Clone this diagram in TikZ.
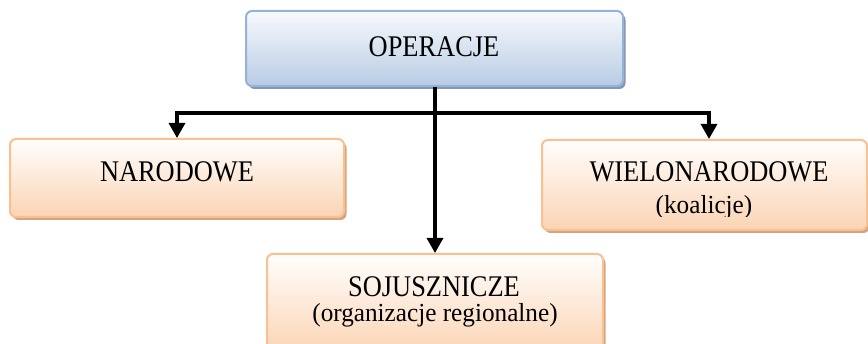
\documentclass[tikz,border=0pt]{standalone}
\usepackage{fontspec}
\setmainfont{Liberation Serif}
\newfontfamily\capsfont[FakeStretch=0.88]{Liberation Serif}
\newfontfamily\smallfont[FakeStretch=0.97]{Liberation Serif}
\usetikzlibrary{shadows,arrows.meta}

\definecolor{bluetop}{HTML}{F7F9FD}
\definecolor{bluebot}{HTML}{B8CCE4}
\definecolor{blueline}{HTML}{95B3D7}
\definecolor{blueshadow}{HTML}{8497B0}
\definecolor{orangetop}{HTML}{FFFEFD}
\definecolor{orangebot}{HTML}{FBD4B4}
\definecolor{orangeline}{HTML}{FAC090}
\definecolor{orangeshadow}{HTML}{D2A484}

\tikzset{
  x=1pt, y=-1pt,
  box/.style={rectangle, rounded corners=6pt, line width=2pt, inner sep=0pt},
  bluebox/.style={box, draw=blueline, top color=bluetop, bottom color=bluebot,
    drop shadow={shadow xshift=2.5pt, shadow yshift=-3pt, fill=blueshadow, opacity=1}},
  orangebox/.style={box, draw=orangeline, top color=orangetop, bottom color=orangebot,
    drop shadow={shadow xshift=2.5pt, shadow yshift=-3pt, fill=orangeshadow, opacity=1}},
  maintext/.style={anchor=base, inner sep=0pt, font=\capsfont\fontsize{30}{32}\selectfont},
  subtext/.style={anchor=base, inner sep=0pt, font=\smallfont\fontsize{26}{28}\selectfont},
  link/.style={line width=3.2pt, black},
  arrow/.style={link, -{Triangle[length=15pt, width=16pt]}},
}

\begin{document}
\begin{tikzpicture}
  \useasboundingbox (0,0) rectangle (868,344);

  % boxes
  \node[bluebox, minimum width=377pt, minimum height=75pt] (op) at (434.5,48.5) {};
  \node[orangebox, minimum width=334pt, minimum height=78pt] (nar) at (177,178) {};
  \node[orangebox, minimum width=325pt, minimum height=90pt] (wiel) at (704.5,185) {};
  \node[orangebox, minimum width=336pt, minimum height=100pt] (soj) at (435,304) {};

  % labels
  \node[maintext] (optext) at (434,57) {OPERACJE};
  \node[maintext] (nartext) at (177,182) {NARODOWE};
  \node[maintext] (wieltext) at (709,182) {WIELONARODOWE};
  \begin{scope}
    \clip (542,190) rectangle (866,217);
    \node[subtext] (wielsub) at (704,214) {(koalicje)};
  \end{scope}
  \node[maintext] (sojtext) at (434,297) {SOJUSZNICZE};
  \node[subtext] (sojsub) at (435,322) {(organizacje regionalne)};

  % connectors
  \draw[arrow] (op.south -| 435,0) -- (soj.north -| 435,0);
  \draw[arrow] (435,113) -| (nar.north);
  \draw[arrow] (435,113) -| (wiel.north -| 709,0);
\end{tikzpicture}
\end{document}
